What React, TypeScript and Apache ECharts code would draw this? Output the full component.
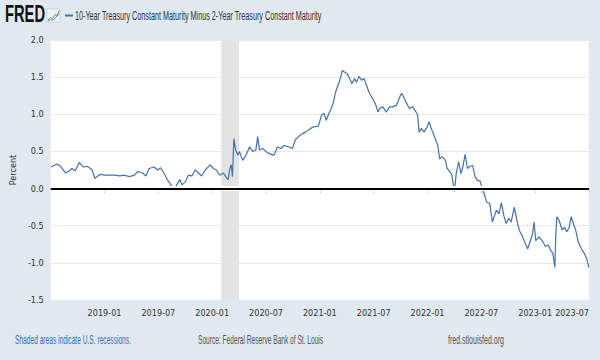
import React, { useEffect, useRef } from "react";
import * as echarts from "echarts";

const dates: string[] = [
  "2018-07-02","2018-07-23","2018-08-04","2018-08-21","2018-09-01","2018-09-12","2018-09-23","2018-10-07","2018-10-21","2018-11-02",
  "2018-11-18","2018-11-29","2018-12-16","2019-01-02","2019-01-19","2019-02-05","2019-02-20","2019-03-08","2019-03-25","2019-04-11",
  "2019-04-22","2019-05-09","2019-05-20","2019-05-31","2019-06-17","2019-06-28","2019-07-09","2019-07-20","2019-08-01","2019-08-12",
  "2019-08-23","2019-09-04","2019-09-13","2019-09-20","2019-10-01","2019-10-12","2019-10-24","2019-11-04","2019-11-15","2019-11-26",
  "2019-12-08","2019-12-25","2020-01-05","2020-01-16","2020-01-27","2020-02-08","2020-02-19","2020-02-24","2020-02-28","2020-03-05",
  "2020-03-09","2020-03-14","2020-03-20","2020-03-28","2020-04-02","2020-04-13","2020-04-24","2020-05-06","2020-05-17","2020-05-28",
  "2020-06-03","2020-06-09","2020-06-20","2020-07-01","2020-07-12","2020-07-29","2020-08-09","2020-08-21","2020-09-01","2020-09-18",
  "2020-09-29","2020-10-10","2020-10-21","2020-11-02","2020-11-13","2020-11-30","2020-12-10","2020-12-27","2021-01-07","2021-01-15",
  "2021-01-23","2021-02-01","2021-02-09","2021-02-16","2021-02-21","2021-02-26","2021-03-06","2021-03-17","2021-03-24","2021-04-01",
  "2021-04-09","2021-04-18","2021-04-27","2021-05-04","2021-05-12","2021-05-21","2021-05-30","2021-06-07","2021-06-15","2021-06-24",
  "2021-06-29","2021-07-07","2021-07-16","2021-07-22","2021-08-02","2021-08-13","2021-08-25","2021-09-05","2021-09-16","2021-09-22",
  "2021-10-01","2021-10-06","2021-10-14","2021-10-23","2021-10-31","2021-11-11","2021-11-20","2021-11-28","2021-12-03","2021-12-11",
  "2021-12-20","2021-12-31","2022-01-06","2022-01-17","2022-01-28","2022-02-05","2022-02-11","2022-02-19","2022-03-01","2022-03-07",
  "2022-03-18","2022-03-23","2022-04-01","2022-04-07","2022-04-15","2022-04-23","2022-04-29","2022-05-07","2022-05-15","2022-05-24",
  "2022-06-02","2022-06-10","2022-06-18","2022-06-27","2022-07-04","2022-07-11","2022-07-19","2022-07-30","2022-08-08","2022-08-16",
  "2022-08-22","2022-08-31","2022-09-08","2022-09-16","2022-09-24","2022-10-03","2022-10-11","2022-10-22","2022-11-02","2022-11-08",
  "2022-11-19","2022-11-28","2022-12-06","2022-12-14","2022-12-23","2022-12-28","2023-01-03","2023-01-14","2023-01-25","2023-02-05",
  "2023-02-14","2023-02-21","2023-02-28","2023-03-07","2023-03-10","2023-03-14","2023-03-22","2023-04-01","2023-04-09","2023-04-17",
  "2023-04-25","2023-05-01","2023-05-09","2023-05-17","2023-05-26","2023-06-06","2023-06-15","2023-06-23","2023-06-30"
];

const spreadValues: number[] = [
  0.29,0.33,0.30,0.21,0.23,0.27,0.24,0.35,0.29,0.30,
  0.26,0.14,0.19,0.18,0.18,0.18,0.17,0.18,0.16,0.18,
  0.23,0.21,0.17,0.27,0.29,0.25,0.28,0.21,0.12,0.06,
  -0.02,0.06,0.12,0.05,0.09,0.18,0.17,0.25,0.21,0.17,
  0.25,0.32,0.27,0.25,0.18,0.21,0.14,0.12,0.25,0.32,
  0.16,0.67,0.52,0.45,0.50,0.38,0.45,0.56,0.50,0.52,
  0.70,0.52,0.54,0.50,0.47,0.45,0.56,0.54,0.58,0.56,
  0.54,0.66,0.70,0.74,0.76,0.81,0.83,0.84,0.99,1.01,
  0.92,1.01,1.08,1.17,1.28,1.35,1.43,1.59,1.57,1.55,
  1.50,1.41,1.48,1.43,1.51,1.46,1.48,1.39,1.30,1.23,
  1.20,1.14,1.03,1.08,1.10,1.03,1.10,1.10,1.12,1.17,
  1.26,1.28,1.21,1.14,1.08,1.10,1.05,0.99,0.76,0.81,
  0.76,0.83,0.90,0.78,0.67,0.58,0.40,0.43,0.38,0.27,
  0.22,0.18,-0.04,0.20,0.36,0.20,0.29,0.46,0.27,0.30,
  0.31,0.16,0.11,0.10,0.00,-0.07,-0.18,-0.20,-0.45,-0.36,
  -0.29,-0.34,-0.19,-0.36,-0.47,-0.40,-0.45,-0.25,-0.47,-0.56,
  -0.65,-0.74,-0.81,-0.72,-0.61,-0.45,-0.70,-0.65,-0.70,-0.78,
  -0.76,-0.83,-0.87,-1.06,-0.65,-0.38,-0.43,-0.56,-0.52,-0.58,
  -0.52,-0.38,-0.47,-0.56,-0.72,-0.81,-0.87,-0.94,-1.06
];

const recessionStart = "2020-02-01";
const recessionEnd = "2020-04-01";
const axisStart = "2018-07-01";
const axisEnd = "2023-07-01";
const xTickMonths = 6;
const yTicks = { min: -1.5, max: 2.0, step: 0.5 };

const titleText = "10-Year Treasury Constant Maturity Minus 2-Year Treasury Constant Maturity";
const footLeft = "Shaded areas indicate U.S. recessions.";
const footMid = "Source: Federal Reserve Bank of St. Louis";
const footRight = "fred.stlouisfed.org";

function monthIndex(d: string): number {
  const [y, m, day] = d.split("-").map(Number);
  const dim = new Date(y, m, 0).getDate();
  return (y - 2018) * 12 + (m - 7) + (day - 1) / dim;
}

function monthLabel(v: number): string {
  const total = Math.round(v) + 6; // months since 2018-01
  const y = 2018 + Math.floor(total / 12);
  const mm = (total % 12) + 1;
  return `${y}-${mm < 10 ? "0" + mm : mm}`;
}

const NARROW = "'Liberation Sans Narrow', 'DejaVu Sans Condensed', 'Liberation Sans', sans-serif";
const SANS = "'Liberation Sans', Arial, sans-serif";

export default function App() {
  const ref = useRef<HTMLDivElement>(null);
  useEffect(() => {
    if (!ref.current) return;
    const chart = echarts.init(ref.current, undefined, { renderer: "svg" });
    const canvas = document.createElement("canvas");
    const ctx = canvas.getContext("2d")!;
    const fit = (text: string, font: string, width: number) => {
      ctx.font = font;
      const w = ctx.measureText(text).width;
      return w > 0 ? width / w : 1;
    };
    const titleFont = `12px ${SANS}`;
    const footFont = `12px ${SANS}`;
    const logoFont = `900 23px ${SANS}`;

    const seriesData = dates.map((d, i) => [monthIndex(d), spreadValues[i]]);

    const textEl = (text: string, x: number, y: number, font: string, size: number, weight: any, color: string, width: number) => ({
      type: "text",
      x,
      y,
      scaleX: fit(text, font, width),
      style: {
        text,
        fontSize: size,
        fontWeight: weight,
        fontFamily: SANS,
        fill: color,
        textAlign: "left",
        textVerticalAlign: "middle",
      },
      silent: true,
    });

    chart.setOption({
      animation: false,
      backgroundColor: "#e1e9f0",
      grid: { left: 43, right: 11, top: 40, bottom: 60, show: true, backgroundColor: "#ffffff", borderWidth: 0 },
      xAxis: {
        type: "value",
        min: monthIndex(axisStart),
        max: monthIndex(axisEnd),
        interval: xTickMonths,
        axisLine: { show: true, lineStyle: { color: "#ccd6eb", width: 1 } },
        axisTick: { show: true, length: 5, lineStyle: { color: "#ccd6eb" } },
        splitLine: { show: false },
        axisLabel: {
          formatter: (v: number) => monthLabel(v),
          showMinLabel: false,
          alignMaxLabel: "right",
          color: "#333",
          fontSize: 9,
          fontFamily: NARROW,
          margin: 8,
        },
      },
      yAxis: {
        type: "value",
        min: yTicks.min,
        max: yTicks.max,
        interval: yTicks.step,
        axisLine: { show: false },
        axisTick: { show: false },
        splitLine: { lineStyle: { color: "#e6e6e6", width: 1 } },
        axisLabel: {
          formatter: (v: number) => v.toFixed(1),
          color: "#333",
          fontSize: 9,
          fontFamily: NARROW,
          margin: 7,
        },
        name: "Percent",
        nameLocation: "middle",
        nameRotate: 90,
        nameGap: 29,
        nameTextStyle: { color: "#333", fontSize: 9, fontFamily: NARROW },
      },
      series: [
        {
          type: "line",
          z: 1,
          data: [[monthIndex(axisStart), 0]],
          showSymbol: false,
          lineStyle: { width: 0 },
          silent: true,
          markArea: {
            silent: true,
            itemStyle: { color: "#e3e3e3" },
            data: [[{ xAxis: monthIndex(recessionStart) }, { xAxis: monthIndex(recessionEnd) }]],
          },
        },
        {
          type: "line",
          z: 2,
          data: [[monthIndex(axisStart), 0]],
          showSymbol: false,
          lineStyle: { width: 0 },
          silent: true,
          markLine: {
            silent: true,
            symbol: "none",
            label: { show: false },
            lineStyle: { color: "#ffffff", width: 5, type: "solid" },
            data: [{ yAxis: 0 }],
          },
        },
        {
          type: "line",
          z: 3,
          data: [[monthIndex(axisStart), 0]],
          showSymbol: false,
          lineStyle: { width: 0 },
          silent: true,
          markLine: {
            silent: true,
            symbol: "none",
            label: { show: false },
            lineStyle: { color: "#000000", width: 2, type: "solid" },
            data: [{ yAxis: 0 }],
          },
        },
        {
          type: "line",
          z: 4,
          name: titleText,
          data: seriesData,
          showSymbol: false,
          lineStyle: { color: "#4572a7", width: 1.2 },
        },
      ],
      graphic: [
        textEl("FRED", 5, 14, logoFont, 23, 900, "#111", 40),
        { type: "rect", shape: { x: 47, y: 9, width: 13, height: 13 }, style: { fill: "#eef3f7", stroke: "#b8c8d8", lineWidth: 0.6 }, silent: true },
        { type: "polyline", shape: { points: [[48, 20], [50.5, 17.5], [52.5, 18.5], [55, 14.5], [57, 15.5], [59.5, 10.5]] }, style: { stroke: "#5a9e3a", lineWidth: 1, fill: null }, silent: true },
        { type: "polyline", shape: { points: [[48, 21], [51, 19.5], [53.5, 20], [56, 17], [59.5, 14]] }, style: { stroke: "#4572a7", lineWidth: 0.8, fill: null }, silent: true },
        { type: "line", shape: { x1: 65, y1: 15.5, x2: 73, y2: 15.5 }, style: { stroke: "#4572a7", lineWidth: 2 }, silent: true },
        textEl(titleText, 75, 15.5, titleFont, 12, "normal", "#333", 247),
        textEl(footLeft, 15, 340, footFont, 12, "normal", "#3d6fb0", 116),
        textEl(footMid, 198, 340, footFont, 12, "normal", "#555", 125),
        textEl(footRight, 448, 340, footFont, 12, "normal", "#555", 56),
      ],
    });
    return () => chart.dispose();
  }, []);
  return <div ref={ref} style={{ position: "fixed", left: 0, top: 0, width: 600, height: 360 }} />;
}
